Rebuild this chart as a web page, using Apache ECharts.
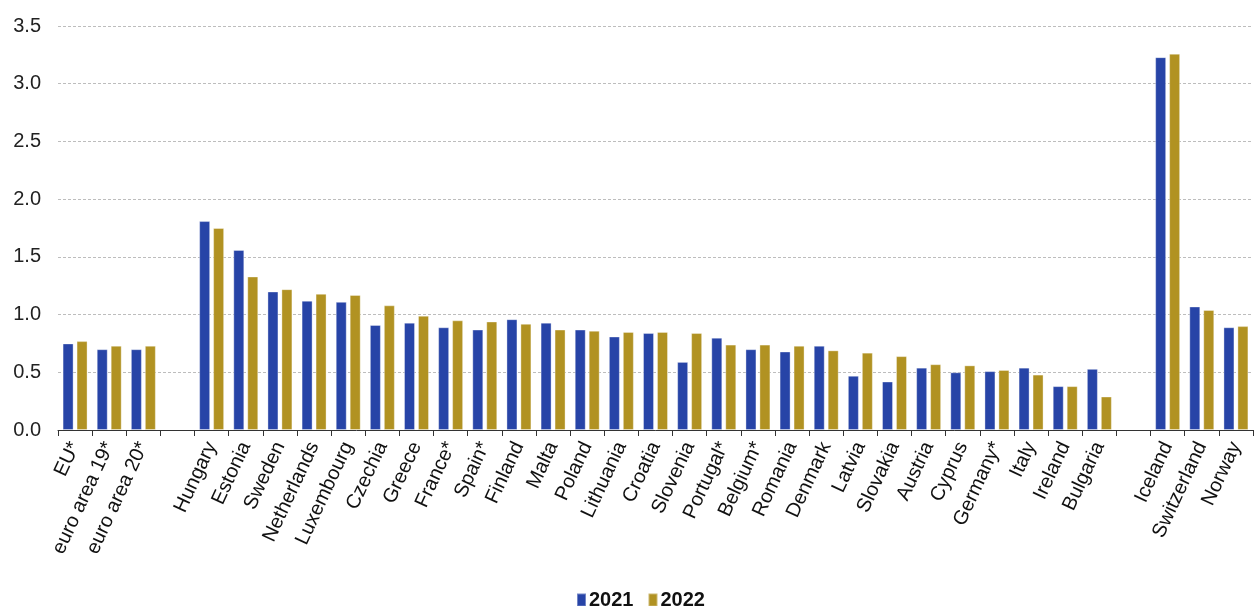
<!DOCTYPE html>
<html>
<head>
<meta charset="utf-8">
<script src="https://cdn.jsdelivr.net/npm/echarts@6/dist/echarts.min.js"></script>
<style>
html,body{margin:0;padding:0;background:#fff;}
#chart{width:1254px;height:606px;}
</style>
</head>
<body>
<div id="chart"></div>
<script>
const categories = ['EU*','euro area 19*','euro area 20*','','Hungary','Estonia','Sweden','Netherlands','Luxembourg','Czechia','Greece','France*','Spain*','Finland','Malta','Poland','Lithuania','Croatia','Slovenia','Portugal*','Belgium*','Romania','Denmark','Latvia','Slovakia','Austria','Cyprus','Germany*','Italy','Ireland','Bulgaria','','Iceland','Switzerland','Norway'];
const values2021 = [0.75,0.70,0.70,null,1.81,1.56,1.20,1.12,1.11,0.91,0.93,0.89,0.87,0.96,0.93,0.87,0.81,0.84,0.59,0.80,0.70,0.68,0.73,0.47,0.42,0.54,0.50,0.51,0.54,0.38,0.53,null,3.23,1.07,0.89];
const values2022 = [0.77,0.73,0.73,null,1.75,1.33,1.22,1.18,1.17,1.08,0.99,0.95,0.94,0.92,0.87,0.86,0.85,0.85,0.84,0.74,0.74,0.73,0.69,0.67,0.64,0.57,0.56,0.52,0.48,0.38,0.29,null,3.26,1.04,0.90];
const seriesNames = ['2021','2022'];
const yTicks = {min:0, max:3.5, interval:0.5};

const font = 'Liberation Sans, Arial, sans-serif';
const chart = echarts.init(document.getElementById('chart'));
chart.setOption({
  animation:false,
  color:['#2744A7','#B19222'],
  textStyle:{fontFamily:font},
  grid:{left:58,right:1,top:26,bottom:176,containLabel:false},
  legend:{
    data:seriesNames,
    top:585,left:571,
    itemWidth:9,itemHeight:13,itemGap:14,
    icon:'rect',
    textStyle:{fontSize:20,fontWeight:'bold',color:'#111',fontFamily:font,padding:[0,0,0,-2]}
  },
  xAxis:{
    type:'category',
    data:categories,
    axisLine:{lineStyle:{color:'#333',width:1}},
    axisTick:{show:true,length:6,interval:0,lineStyle:{color:'#333'}},
    axisLabel:{interval:0,rotate:65,fontSize:20,color:'#111',margin:13,fontFamily:font}
  },
  yAxis:{
    type:'value',
    min:yTicks.min,max:yTicks.max,interval:yTicks.interval,
    axisLine:{show:false},
    axisTick:{show:false},
    axisLabel:{fontSize:20,color:'#222',margin:17,fontFamily:font,formatter:v=>v.toFixed(1)},
    splitLine:{lineStyle:{color:'#bdbdbd',type:[3,2],width:1}}
  },
  series:[
    {name:seriesNames[0],type:'bar',data:values2021,barWidth:11,barGap:'27%',
     itemStyle:{borderColor:'rgba(255,255,255,0.35)',borderWidth:1}},
    {name:seriesNames[1],type:'bar',data:values2022,barWidth:11,
     itemStyle:{borderColor:'rgba(255,255,255,0.35)',borderWidth:1}}
  ]
});
</script>
</body>
</html>
